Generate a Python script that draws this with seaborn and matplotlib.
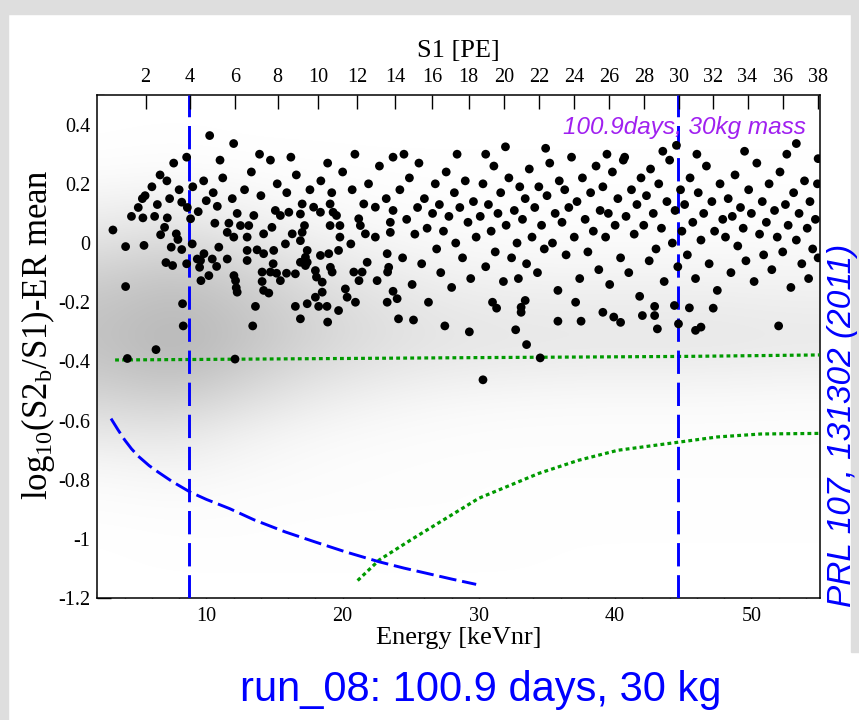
import numpy as np
import pandas as pd
import matplotlib
matplotlib.use("Agg")
import matplotlib.pyplot as plt
import seaborn as sns
from matplotlib.colors import LinearSegmentedColormap
from matplotlib.patches import Rectangle
from matplotlib.ticker import MultipleLocator, FixedLocator, FuncFormatter

# ---------------- data ----------------
# ER background events (black dots): (energy keVnr, log10(S2b/S1)-ER mean)
er_points = [
    (3.14, 0.044), (4.07, -0.012), (4.07, -0.147), (4.2, -0.39), (6.3, -0.36),
    (8.19, 0.138), (5.34, 0.085), (6.2, 0.09), (7.13, 0.085), (6.93, 0.053),
    (6.64, 0.028), (7.79, 0.031), (7.91, 0.012), (5.42, -0.008), (7.42, -0.014),
    (8.19, -0.022), (7.03, -0.066), (7.52, -0.076), (8.55, -0.07), (8.84, 0.082),
    (9.4, 0.106), (8.96, -0.003), (9.99, 0.143), (10.62, 0.067), (10.8, 0.124),
    (11.65, 0.067), (11.53, 0.036), (12.01, 0.02), (12.26, 0.1), (12.5, 0.059),
    (13.11, 0.059), (13.48, 0.093), (12.99, -0.025), (12.99, -0.059), (13.72, -0.023),
    (14.2, -0.036), (14.2, 0.031), (14.81, 0.053), (15.06, 0.11), (15.43, 0.093),
    (14.94, -0.025), (14.9, -0.07), (14.09, -0.098), (14.09, -0.13), (14.7, -0.098),
    (15.15, -0.102), (15.88, -0.102), (15.43, -0.127), (12.14, -0.127), (12.02, -0.11),
    (12.19, -0.151), (12.26, -0.166), (14.2, -0.16), (14.58, -0.169), (13.6, -0.214),
    (9.6, -0.127), (9.5, -0.082), (9.57, -0.059), (9.82, -0.036), (9.33, -0.054),
    (10.43, -0.054), (10.75, -0.079), (10.18, -0.11), (10.91, -0.014), (11.53, -0.054),
    (12.99, 0.02), (16.05, 0.104), (16.9, 0.098), (17.03, 0.036), (16.9, 0.008),
    (17.2, 0.059), (17.4, -0.025), (17.27, -0.048), (17.4, -0.065), (17.27, -0.076),
    (18.0, -0.093), (18.08, -0.115), (18.37, -0.042), (18.98, -0.036), (19.1, -0.082),
    (19.23, -0.098), (18.5, -0.132), (18.5, -0.166), (18.0, -0.183), (17.4, -0.205),
    (18.24, -0.214), (18.85, -0.214), (16.53, -0.214), (16.9, -0.256), (19.7, -0.228),
    (18.9, -0.267), (20.2, -0.155), (20.33, -0.183), (20.94, -0.2), (21.2, -0.127),
    (20.82, -0.098), (21.43, -0.098), (21.8, -0.065), (22.53, -0.127), (23.27, -0.036),
    (23.38, -0.082), (23.27, -0.2), (23.7, -0.163), (24.0, -0.188), (23.7, 0.11),
    (23.5, 0.07), (23.5, 0.036), (23.3, -0.098), (24.1, -0.256), (21.67, 0.031),
    (21.3, 0.059), (22.4, 0.02), (21.55, 0.132), (22.4, 0.121), (21.18, 0.082),
    (19.8, 0.059), (19.08, 0.059), (19.3, 0.104), (19.55, 0.093), (19.08, 0.132),
    (18.37, 0.104), (17.87, 0.121), (17.03, 0.132), (16.3, 0.031), (15.8, -0.003),
    (16.9, -0.065), (16.53, -0.104), (19.8, 0.02), (19.7, -0.025), (20.6, -0.003),
    (8.25, -0.205), (8.3, -0.28), (12.1, -0.392), (13.4, -0.28),
    (10.24, 0.363), (8.55, 0.29), (12.0, 0.336), (14.7, 0.28), (23.7, 0.29),
    (5.3, 0.15), (6.0, 0.19), (6.6, 0.23), (7.1, 0.21), (5.0, 0.12), (8.6, 0.12),
    (4.5, 0.09), (5.5, 0.16), (6.4, 0.13), (7.3, 0.15), (8.0, 0.18), (9.0, 0.19),
    (9.8, 0.21), (10.5, 0.17), (11.2, 0.22), (11.9, 0.15), (12.8, 0.18), (13.3, 0.24),
    (14.0, 0.16), (15.2, 0.2), (15.9, 0.17), (16.6, 0.23), (17.6, 0.18), (18.4, 0.21),
    (19.2, 0.17), (20.0, 0.24), (20.7, 0.18), (21.9, 0.2), (22.7, 0.26), (23.2, 0.15),
    (18.9, 0.27), (13.9, 0.3), (16.2, 0.29), (20.9, 0.3), (11.0, 0.28), (7.6, 0.27),
    (30.3, -0.462), (34.5, -0.388), (33.5, -0.343), (32.7, -0.293), (31.0, -0.2),
    (33.1, -0.217), (33.1, -0.234), (33.4, -0.194), (35.8, -0.264), (37.5, -0.264),
    (39.1, -0.234), (39.9, -0.25), (40.4, -0.268), (42.0, -0.245), (42.9, -0.245),
    (42.9, -0.214), (43.1, -0.29), (44.35, -0.211), (44.65, -0.273), (45.45, -0.219),
    (45.9, -0.295), (46.3, -0.284), (52.0, -0.28),
    (30.5, 0.30), (31.95, 0.325), (40.7, 0.29), (44.5, 0.33), (53.3, 0.336), (54.9, 0.285),
    (24.2, 0.18), (24.4, -0.05), (24.7, 0.08), (24.9, 0.22), (25.1, -0.14), (25.3, 0.03),
    (25.5, 0.12), (25.6, 0.27), (25.8, -0.07), (26.0, 0.15), (26.2, 0.05), (26.3, -0.2),
    (26.6, 0.1), (26.8, 0.2), (26.9, -0.02), (25.2, -0.26), (24.5, 0.3),
    (27.1, 0.13), (27.2, -0.1), (27.4, 0.04), (27.6, 0.24), (27.8, 0.09), (28.0, -0.15),
    (28.2, 0.17), (28.3, 0.0), (28.6, 0.12), (28.8, -0.05), (29.0, 0.21), (29.2, 0.07),
    (29.4, -0.12), (29.6, 0.14), (29.8, 0.02), (28.4, 0.3), (27.5, -0.28), (29.3, -0.3),
    (30.1, 0.09), (30.3, 0.2), (30.5, -0.08), (30.7, 0.13), (30.9, 0.04), (31.1, 0.26),
    (31.2, -0.03), (31.4, 0.1), (31.6, 0.17), (31.8, -0.13), (32.0, 0.06), (32.2, 0.22),
    (32.4, -0.05), (32.6, 0.11), (32.8, 0.0), (33.0, 0.19), (31.3, -0.22), (32.9, -0.12),
    (33.2, 0.08), (33.4, 0.15), (33.5, -0.07), (33.7, 0.25), (33.9, 0.02), (34.1, 0.12),
    (34.3, -0.1), (34.4, 0.19), (34.6, 0.06), (34.8, -0.02), (35.0, 0.16), (35.2, 0.27),
    (35.4, 0.0), (35.6, 0.1), (35.8, -0.16), (35.9, 0.21), (34.9, 0.32),
    (36.1, 0.07), (36.3, 0.18), (36.4, -0.04), (36.6, 0.12), (36.8, 0.29), (37.0, 0.02),
    (37.2, 0.14), (37.4, -0.12), (37.6, 0.22), (37.8, 0.08), (38.0, -0.03), (38.2, 0.17),
    (38.4, 0.04), (38.6, 0.26), (38.8, -0.09), (38.9, 0.11), (37.1, -0.2),
    (39.1, 0.19), (39.3, 0.02), (39.5, 0.1), (39.6, -0.14), (39.8, 0.24), (40.0, 0.06),
    (40.2, 0.15), (40.4, -0.05), (40.6, 0.28), (40.8, 0.09), (41.0, -0.1), (41.2, 0.18),
    (41.4, 0.03), (41.6, 0.13), (41.8, -0.18), (41.9, 0.22), (39.4, 0.3),
    (42.1, 0.06), (42.3, 0.16), (42.5, -0.06), (42.6, 0.25), (42.8, 0.1), (43.0, -0.02),
    (43.2, 0.2), (43.4, 0.05), (43.6, -0.13), (43.8, 0.14), (44.0, 0.28), (44.2, 0.0),
    (44.4, 0.11), (44.6, -0.08), (44.8, 0.18), (44.9, 0.04), (43.5, 0.31),
    (45.1, 0.13), (45.3, -0.04), (45.5, 0.22), (45.7, 0.07), (45.9, -0.12), (46.1, 0.17),
    (46.3, 0.01), (46.5, 0.1), (46.7, 0.26), (46.9, -0.07), (47.1, 0.14), (47.3, 0.04),
    (47.5, -0.16), (47.7, 0.2), (47.9, 0.08), (46.0, 0.3), (47.2, -0.22),
    (48.1, 0.02), (48.3, 0.15), (48.5, -0.1), (48.6, 0.09), (48.8, 0.23), (49.0, -0.01),
    (49.2, 0.12), (49.4, 0.05), (49.6, -0.06), (49.8, 0.18), (50.0, 0.1), (50.2, -0.13),
    (50.4, 0.27), (50.6, 0.03), (50.8, 0.14), (50.9, -0.04), (49.5, 0.31),
    (51.1, 0.07), (51.3, 0.2), (51.5, -0.09), (51.7, 0.11), (51.9, 0.02), (52.1, 0.24),
    (52.3, -0.03), (52.5, 0.13), (52.7, 0.06), (52.9, -0.15), (53.1, 0.17), (53.3, 0.01),
    (53.5, 0.1), (53.7, -0.07), (53.9, 0.21), (54.1, 0.05), (54.3, 0.14), (54.5, -0.02),
    (54.7, 0.08), (54.85, 0.2), (54.9, -0.05), (54.2, -0.12), (52.6, 0.3),
]

# NR calibration (gray cloud) density grid, rows = log ratio bins, cols = energy bins
nr_energy_centers = [2.5, 7.5, 12.5, 17.5, 22.5, 27.5, 32.5, 37.5, 42.5, 47.5, 52.5]
nr_y_centers = [-1.15, -1.05, -0.95, -0.85, -0.75, -0.65, -0.55, -0.45, -0.35,
                -0.25, -0.15, -0.05, 0.05, 0.15, 0.25, 0.35, 0.45]
nr_density = [
    [0.00, 0.00, 0.00, 0.00, 0.00, 0.00, 0.00, 0.00, 0.00, 0.00, 0.00],
    [0.00, 0.01, 0.01, 0.01, 0.01, 0.01, 0.01, 0.00, 0.00, 0.00, 0.00],
    [0.01, 0.02, 0.02, 0.01, 0.01, 0.01, 0.01, 0.01, 0.01, 0.01, 0.01],
    [0.04, 0.07, 0.04, 0.03, 0.02, 0.02, 0.01, 0.01, 0.01, 0.01, 0.01],
    [0.12, 0.18, 0.10, 0.05, 0.03, 0.02, 0.02, 0.02, 0.02, 0.02, 0.02],
    [0.30, 0.35, 0.20, 0.10, 0.06, 0.04, 0.03, 0.03, 0.03, 0.03, 0.03],
    [0.50, 0.60, 0.42, 0.24, 0.14, 0.09, 0.07, 0.06, 0.06, 0.06, 0.05],
    [0.70, 0.85, 0.65, 0.42, 0.30, 0.22, 0.20, 0.18, 0.18, 0.18, 0.16],
    [0.80, 1.00, 0.80, 0.58, 0.42, 0.34, 0.31, 0.30, 0.30, 0.30, 0.28],
    [0.80, 0.95, 0.80, 0.58, 0.42, 0.32, 0.29, 0.28, 0.28, 0.28, 0.26],
    [0.70, 0.85, 0.70, 0.48, 0.33, 0.24, 0.20, 0.20, 0.20, 0.20, 0.18],
    [0.50, 0.65, 0.50, 0.32, 0.20, 0.13, 0.10, 0.10, 0.10, 0.10, 0.10],
    [0.30, 0.40, 0.28, 0.16, 0.09, 0.06, 0.04, 0.04, 0.04, 0.04, 0.04],
    [0.15, 0.20, 0.12, 0.07, 0.04, 0.02, 0.02, 0.02, 0.02, 0.02, 0.02],
    [0.03, 0.05, 0.03, 0.02, 0.01, 0.01, 0.01, 0.01, 0.01, 0.01, 0.01],
    [0.00, 0.01, 0.00, 0.00, 0.00, 0.00, 0.00, 0.00, 0.00, 0.00, 0.00],
    [0.00, 0.00, 0.00, 0.00, 0.00, 0.00, 0.00, 0.00, 0.00, 0.00, 0.00],
]

# 99.75% ER rejection line (green dotted, horizontal)
rej_energy = [3.3, 10, 20, 30, 45, 55]
rej_value = [-0.395, -0.393, -0.39, -0.387, -0.383, -0.378]

# S2 threshold curve (green dotted)
s2thr_energy = [21.1, 22.7, 25.1, 30.0, 34.4, 37.3, 40.2, 44.6, 47.5, 50.7, 55.0]
s2thr_value = [-1.14, -1.07, -1.0, -0.862, -0.778, -0.734, -0.70, -0.673, -0.655, -0.645, -0.643]

# lower acceptance curve (blue dashed)
low_energy = [3.0, 3.5, 4.0, 4.5, 5.0, 5.8, 6.5, 7.5, 8.8, 10.0, 11.7, 13.5, 15.8,
              18.0, 20.2, 22.7, 24.5, 26.3, 28.0, 29.8]
low_value = [-0.593, -0.63, -0.665, -0.695, -0.72, -0.752, -0.775, -0.806, -0.841,
             -0.866, -0.897, -0.935, -0.976, -1.01, -1.043, -1.077, -1.098, -1.117,
             -1.135, -1.153]

# energy window (blue dashed verticals)
window_energy = [8.7, 44.6]

# top axis: S1 [PE] ticks and their energy positions
s1_ticks = [2, 4, 6, 8, 10, 12, 14, 16, 18, 20, 22, 24, 26, 28, 30, 32, 34, 36, 38]
s1_energy = [5.54, 8.78, 12.08, 15.23, 18.20, 21.06, 23.86, 26.55, 29.24, 31.86,
             34.44, 37.01, 39.58, 42.14, 44.71, 47.20, 49.72, 52.29, 54.90]

# ---------------- style ----------------
sns.set_theme(style="white")
plt.rcParams['font.family'] = ['Liberation Serif', 'DejaVu Serif']
plt.rcParams['mathtext.fontset'] = 'custom'
plt.rcParams['mathtext.rm'] = 'Liberation Serif'
plt.rcParams['mathtext.it'] = 'Liberation Serif:italic'
plt.rcParams['axes.unicode_minus'] = False

W, H = 859, 720
fig = plt.figure(figsize=(W / 100, H / 100), dpi=100)
fig.patch.set_facecolor('white')

# grey frame strips of the slide
grey = '#dedede'
fig.patches.append(Rectangle((0, 0), 8 / W, 1, transform=fig.transFigure, color=grey, zorder=0))
fig.patches.append(Rectangle((0, 1 - 14 / H), 1, 14 / H, transform=fig.transFigure, color=grey, zorder=0))
fig.patches.append(Rectangle((1 - 8 / W, (H - 652) / H), 8 / W, 652 / H, transform=fig.transFigure, color=grey, zorder=0))

x0, x1 = 97.4, 819.5
y0, y1 = 95.0, 598.3
ax = fig.add_axes([x0 / W, 1 - y1 / H, (x1 - x0) / W, (y1 - y0) / H])
ax.set_facecolor('white')

XMIN, XMAX, YMIN, YMAX = 2.0, 55.0, -1.2, 0.5

# gray NR cloud
cmap = LinearSegmentedColormap.from_list('nrgrey', ['#ffffff', '#b6b6b6'])
dens = np.array(nr_density)
dE = nr_energy_centers[1] - nr_energy_centers[0]
dY = nr_y_centers[1] - nr_y_centers[0]
ax.imshow(dens, origin='lower', cmap=cmap, vmin=0, vmax=1, aspect='auto',
          interpolation='bicubic',
          extent=(nr_energy_centers[0] - dE / 2, nr_energy_centers[-1] + dE / 2,
                  nr_y_centers[0] - dY / 2, nr_y_centers[-1] + dY / 2), zorder=1)

# lines
green = '#009a00'
blue = '#0000ff'
sns.lineplot(x=rej_energy, y=rej_value, ax=ax, color=green, lw=2.3,
             linestyle=(0, (1.2, 1.0)), zorder=3, sort=False)
sns.lineplot(x=s2thr_energy, y=s2thr_value, ax=ax, color=green, lw=2.3,
             linestyle=(0, (1.2, 1.0)), zorder=3, sort=False)
sns.lineplot(x=low_energy, y=low_value, ax=ax, color=blue, lw=2.1,
             linestyle=(0, (6.0, 2.0)), zorder=3, sort=False)
for e in window_energy:
    ax.axvline(e, color=blue, lw=2.1, linestyle=(0, (8.0, 3.0)), zorder=3)

# ER events
er = pd.DataFrame(er_points, columns=['energy', 'value'])
sns.scatterplot(data=er, x='energy', y='value', ax=ax, color='black', s=40,
                edgecolor='none', zorder=4, legend=False)

ax.set_xlim(XMIN, XMAX)
ax.set_ylim(YMIN, YMAX)

# axes styling
for sp in ax.spines.values():
    sp.set_color('black')
    sp.set_linewidth(1.1)

ax.xaxis.set_major_locator(MultipleLocator(10))
ax.xaxis.set_minor_locator(MultipleLocator(2))
ax.yaxis.set_major_locator(MultipleLocator(0.2))
ax.yaxis.set_minor_locator(MultipleLocator(0.05))

def yfmt(v, pos):
    r = round(v, 2)
    if abs(r - round(r)) < 1e-9:
        return '%d' % int(round(r))
    return ('%.1f' % r)

ax.yaxis.set_major_formatter(FuncFormatter(yfmt))
ax.tick_params(axis='both', which='major', direction='in', length=10, width=1.0,
               labelsize=14.5, colors='black', top=False, right=False, left=True, bottom=True)
ax.tick_params(axis='both', which='minor', direction='in', length=5, width=1.0,
               top=False, right=False, left=True, bottom=True)
ax.tick_params(axis='x', which='major', pad=6)
ax.tick_params(axis='y', which='major', pad=5)

ax.set_xlabel('Energy [keVnr]', fontsize=19, labelpad=1, color='black')
ax.set_ylabel('')
fig.text(38 / W, 1 - 335 / H, r'log$_{10}$(S2$_{\mathrm{b}}$/S1)-ER mean', rotation=90,
         fontsize=25, color='black', ha='center', va='center')

# top S1 axis
axt = ax.twiny()
axt.set_xlim(XMIN, XMAX)
axt.xaxis.set_major_locator(FixedLocator(s1_energy))
axt.set_xticklabels([str(v) for v in s1_ticks])
axt.xaxis.set_minor_locator(FixedLocator([]))
axt.tick_params(axis='x', which='major', direction='in', length=10, width=1.0,
                labelsize=14.5, colors='black', pad=6)
axt.set_xlabel('S1 [PE]', fontsize=19, labelpad=8, color='black')
for sp in axt.spines.values():
    sp.set_visible(False)

# annotations
ax.text(0.645, 0.935, '100.9days, 30kg mass', transform=ax.transAxes,
        fontsize=17.5, color='#a020f0', style='italic', family='Liberation Sans',
        ha='left', va='center', zorder=6)
fig.text(842 / W, 1 - 425 / H, 'PRL 107, 131302 (2011)', rotation=90,
         fontsize=24, color=blue, style='italic', family='Liberation Sans',
         ha='center', va='center')
fig.text(481 / W, 1 - 690 / H, 'run_08: 100.9 days, 30 kg',
         fontsize=30, color=blue, family='Liberation Sans', ha='center', va='center')

fig.savefig('out.png', dpi=100, facecolor=fig.get_facecolor())
